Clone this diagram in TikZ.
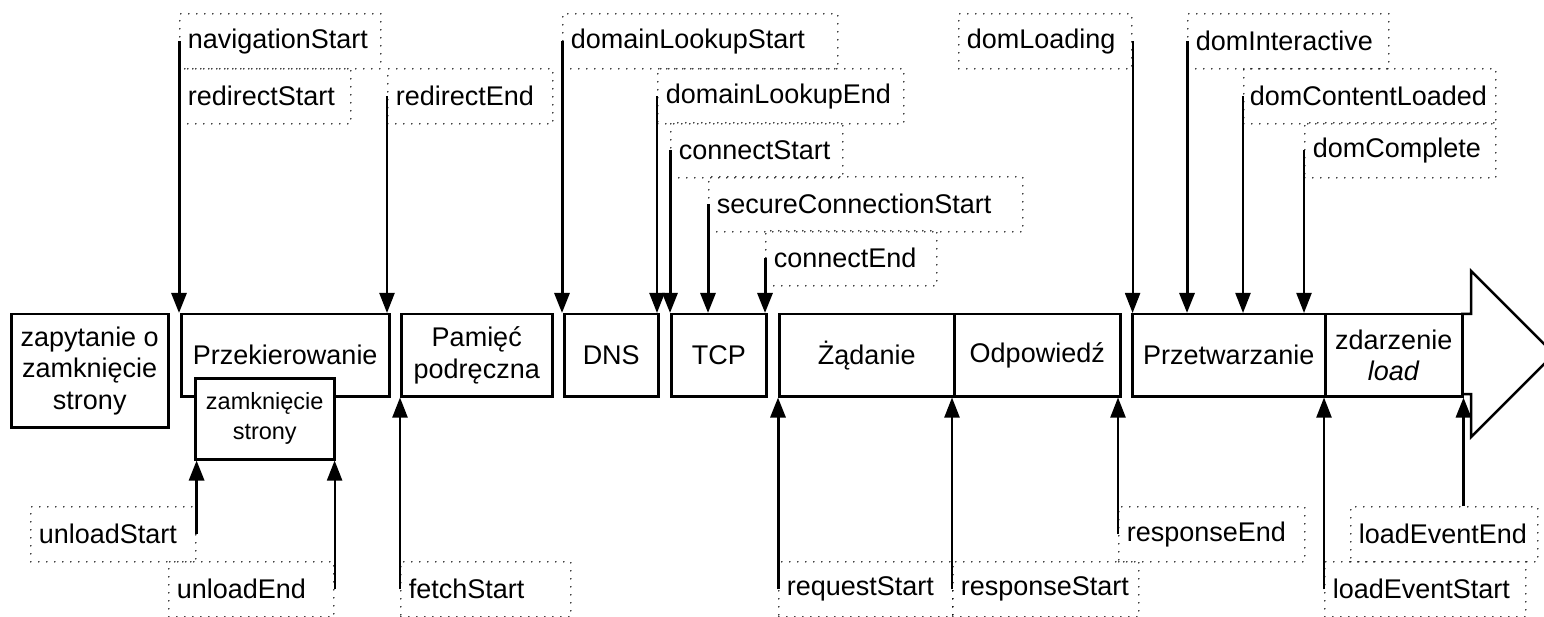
\documentclass[tikz,border=0pt]{standalone}
\usepackage{fontspec}
\setmainfont{Liberation Sans}
\usetikzlibrary{arrows.meta}

\newcommand{\lblfont}{\fontsize{27pt}{31.5pt}\selectfont}
\newcommand{\smallfont}{\fontsize{23.5pt}{30pt}\selectfont}

\begin{document}
\begin{tikzpicture}[
    x=1pt, y=-1pt,
    >={Triangle[length=20pt,width=15pt]},
    phase/.style={
        draw,
        line width=2.5pt,
        anchor=north west,
        align=center,
        inner sep=0pt,
        minimum height=82pt,
        font=\lblfont
    },
    stamp/.style={
        draw,
        line width=1.6pt,
        line cap=round,
        dash pattern=on 0pt off 8pt,
        anchor=north west,
        align=left,
        minimum height=55pt,
        inner xsep=8pt,
        inner ysep=0pt,
        font=\lblfont
    },
    evt/.style={->, line width=3pt},
    evtlight/.style={->, line width=2.2pt}
]
  \useasboundingbox (0,0) rectangle (1544,617);

  % phases of the page load
  \node[phase,minimum width=157pt,minimum height=113pt] (zapytanie) at (10,313) {zapytanie o\\zamknięcie\\strony};
  \node[phase,minimum width=208pt] (przekierowanie) at (180,313) {Przekierowanie};
  \node[phase,fill=white,minimum width=139pt,minimum height=81pt,font=\smallfont] (zamkniecie) at (194,377) {zamknięcie\\strony};
  \node[phase,minimum width=151pt] (pamiec) at (400,313) {Pamięć\\podręczna};
  \node[phase,minimum width=94pt] (dns) at (563,313) {DNS};
  \node[phase,minimum width=95pt] (tcp) at (670,313) {TCP};
  \node[phase,minimum width=175pt] (zadanie) at (778,313) {Żądanie};
  \node[phase,minimum width=166pt] (odpowiedz) at (953,313) {Odpowiedź};
  \node[phase,minimum width=193pt] (przetwarzanie) at (1131,313) {Przetwarzanie};
  \node[phase,minimum width=137pt] (zdarzenie) at (1324,313) {zdarzenie\\\textit{load}};
  \draw[line width=2.5pt] (1461,314) -- (1471,314) -- (1471,271) -- (1554,354)
    -- (1471,437) -- (1471,394) -- (1461,394);

  % timestamps above
  \node[stamp,text width=185pt] (navigationStart) at (179,13) {navigationStart};
  \node[stamp,text width=155pt] (redirectStart) at (179,68) {redirectStart};
  \node[stamp,text width=149pt] (redirectEnd) at (387,68) {redirectEnd};
  \node[stamp,text width=259pt] (domainLookupStart) at (562,13) {domainLookupStart};
  \node[stamp,text width=230pt] (domainLookupEnd) at (657,68) {domainLookupEnd};
  \node[stamp,text width=156pt] (connectStart) at (670,122) {connectStart};
  \node[stamp,text width=298pt] (secureConnectionStart) at (708,176) {secureConnectionStart};
  \node[stamp,text width=155pt] (connectEnd) at (765,230) {connectEnd};
  \node[stamp,text width=157pt] (domLoading) at (958,13) {domLoading};
  \node[stamp,text width=185pt] (domInteractive) at (1187,13) {domInteractive};
  \node[stamp,text width=240pt,inner xsep=6pt] (domContentLoaded) at (1243,68) {domContentLoaded};
  \node[stamp,text width=175pt] (domComplete) at (1304,122) {domComplete};

  % timestamps below
  \node[stamp,text width=149pt] (unloadStart) at (30,506) {unloadStart};
  \node[stamp,text width=149pt] (unloadEnd) at (168,561) {unloadEnd};
  \node[stamp,text width=154pt] (fetchStart) at (400,561) {fetchStart};
  \node[stamp,text width=158pt] (requestStart) at (778,561) {requestStart};
  \node[stamp,text width=170pt] (responseStart) at (952,561) {responseStart};
  \node[stamp,text width=170pt] (responseEnd) at (1118,506) {responseEnd};
  \node[stamp,text width=185pt] (loadEventStart) at (1324,561) {loadEventStart};
  \node[stamp,text width=171pt] (loadEventEnd) at (1350,506) {loadEventEnd};

  \draw[evt] (navigationStart.west) -- (navigationStart.west |- przekierowanie.north);
  \draw[evtlight] (redirectEnd.west) -- (redirectEnd.west |- przekierowanie.north);
  \draw[evt] (domainLookupStart.west) -- (domainLookupStart.west |- dns.north);
  \draw[evtlight] (domainLookupEnd.west) -- (domainLookupEnd.west |- dns.north);
  \draw[evt] (connectStart.west) -- (connectStart.west |- tcp.north);
  \draw[evt] (secureConnectionStart.west) -- (secureConnectionStart.west |- tcp.north);
  \draw[evt] (connectEnd.west) -- (connectEnd.west |- tcp.north);
  \draw[evtlight] (domLoading.east) -- (domLoading.east |- przetwarzanie.north);
  \draw[evt] (domInteractive.west) -- (domInteractive.west |- przetwarzanie.north);
  \draw[evtlight] (domContentLoaded.west) -- (domContentLoaded.west |- przetwarzanie.north);
  \draw[evtlight] (domComplete.west) -- (domComplete.west |- przetwarzanie.north);

  \draw[evt] (unloadStart.east) -- (unloadStart.east |- zamkniecie.south);
  \draw[evtlight] (unloadEnd.east) -- (unloadEnd.east |- zamkniecie.south);
  \draw[evtlight] (fetchStart.west) -- (fetchStart.west |- pamiec.south);
  \draw[evt] (requestStart.west) -- (requestStart.west |- zadanie.south);
  \draw[evtlight] (responseStart.west) -- (responseStart.west |- odpowiedz.south);
  \draw[evtlight] (responseEnd.west) -- (responseEnd.west |- odpowiedz.south);
  \draw[evtlight] (loadEventStart.west) -- (loadEventStart.west |- zdarzenie.south);
  \draw[evt] (zdarzenie.south east |- loadEventEnd.north) -- (zdarzenie.south east);
\end{tikzpicture}
\end{document}
